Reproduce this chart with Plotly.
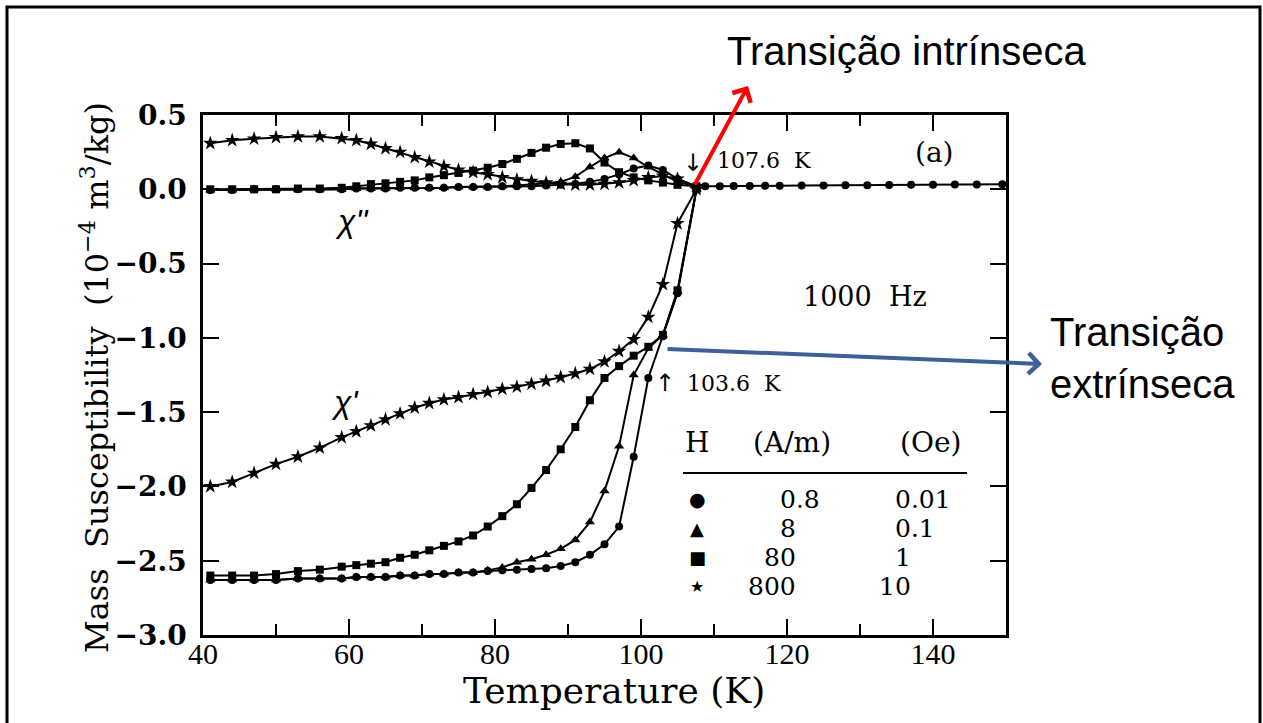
import plotly.graph_objects as go

# ---------------- data ----------------
T = [41, 44, 47, 50, 53, 56, 59, 61, 63, 65, 67, 69, 71, 73, 75, 77, 79,
     81, 83, 85, 87, 89, 91, 93, 95, 97, 99, 101, 103, 105, 107.6]
T_above = [108.8, 110.8, 112.7, 114.9, 117, 119, 122, 125, 128, 131, 134,
           137, 140, 143, 146, 149.5]

# chi' (real part)
chi1_h08 = [-2.63, -2.63, -2.63, -2.63, -2.62, -2.62, -2.62, -2.61, -2.61, -2.61,
            -2.60, -2.60, -2.59, -2.59, -2.58, -2.58, -2.57, -2.565, -2.56, -2.555,
            -2.55, -2.535, -2.51, -2.46, -2.39, -2.27, -1.80, -1.27, -0.99, -0.70, 0.0]
chi1_h08_above = [0.020, 0.020, 0.022, 0.022, 0.023, 0.024, 0.025, 0.026, 0.027,
                  0.028, 0.029, 0.030, 0.031, 0.032, 0.033, 0.034]
chi1_h8 = [-2.63, -2.63, -2.63, -2.63, -2.62, -2.62, -2.62, -2.61, -2.61, -2.61,
           -2.60, -2.60, -2.59, -2.59, -2.58, -2.58, -2.565, -2.545, -2.51, -2.49,
           -2.46, -2.42, -2.36, -2.24, -2.03, -1.73, -1.25, -1.07, -0.98, -0.69, 0.0]
chi1_h80 = [-2.60, -2.60, -2.60, -2.59, -2.57, -2.56, -2.54, -2.53, -2.52, -2.51,
            -2.48, -2.46, -2.43, -2.40, -2.37, -2.33, -2.27, -2.20, -2.12, -2.01,
            -1.89, -1.75, -1.60, -1.42, -1.27, -1.19, -1.12, -1.06, -0.98, -0.68, 0.0]
chi1_h800 = [-2.00, -1.97, -1.91, -1.85, -1.80, -1.74, -1.67, -1.63, -1.59, -1.55,
             -1.51, -1.47, -1.44, -1.415, -1.40, -1.38, -1.365, -1.345, -1.33, -1.31,
             -1.29, -1.265, -1.24, -1.21, -1.16, -1.09, -1.01, -0.86, -0.64, -0.23, 0.0]

# chi'' (imaginary part)
chi2_h08 = [-0.005, -0.005, 0.0, 0.0, 0.0, 0.0, 0.0, 0.005, 0.005, 0.005, 0.01, 0.01,
            0.01, 0.01, 0.015, 0.015, 0.015, 0.02, 0.02, 0.02, 0.025, 0.03, 0.035,
            0.05, 0.07, 0.10, 0.14, 0.16, 0.13, 0.07, 0.02]
chi2_h8 = [-0.005, -0.005, 0.0, 0.0, 0.0, 0.0, 0.0, 0.005, 0.005, 0.005, 0.01, 0.01,
           0.01, 0.01, 0.015, 0.015, 0.015, 0.02, 0.025, 0.03, 0.04, 0.05, 0.085,
           0.15, 0.21, 0.25, 0.21, 0.15, 0.10, 0.05, 0.02]
chi2_h80 = [0.0, 0.0, 0.0, 0.0, 0.005, 0.005, 0.01, 0.02, 0.035, 0.04, 0.05, 0.06,
            0.08, 0.095, 0.11, 0.125, 0.145, 0.17, 0.205, 0.245, 0.28, 0.305, 0.31,
            0.275, 0.18, 0.115, 0.08, 0.06, 0.045, 0.03, 0.02]
chi2_h800 = [0.31, 0.33, 0.34, 0.35, 0.355, 0.355, 0.343, 0.33, 0.305, 0.275, 0.25,
             0.215, 0.185, 0.155, 0.13, 0.115, 0.10, 0.08, 0.065, 0.055, 0.045, 0.035,
             0.03, 0.03, 0.035, 0.045, 0.06, 0.08, 0.09, 0.07, 0.02]

H_am = ["0.8", "8", "80", "800"]
H_oe = ["0.01", "0.1", "1", "10"]
x_ticks = [40, 60, 80, 100, 120, 140]
y_ticks = [0.5, 0.0, -0.5, -1.0, -1.5, -2.0, -2.5, -3.0]

# ---------------- layout geometry ----------------
W, H = 1263, 723
L, R, TOP, B = 203, 1006, 115, 635          # plot area in pixels
XMIN, XMAX, YMIN, YMAX = 40, 150, -3.0, 0.5


def px2x(px):
    return XMIN + (px - L) / (R - L) * (XMAX - XMIN)


def py2y(py):
    return YMAX - (py - TOP) / (B - TOP) * (YMAX - YMIN)


def pxp(px):
    return (px - L) / (R - L)


def pyp(py):
    return (B - py) / (B - TOP)


SERIF = "DejaVu Serif"
SANS = "Liberation Sans"
symbols = ["circle", "triangle-up", "square", "star"]
glyphs = ["\u25CF", "\u25B2", "\u25A0", "\u2605"]
msize = [8, 9, 8, 11]

fig = go.Figure()

chi2 = [chi2_h800, chi2_h80, chi2_h8, chi2_h08]
chi1 = [chi1_h800, chi1_h80, chi1_h8, chi1_h08]
order = [3, 2, 1, 0]
for k, i in enumerate(order):
    fig.add_trace(go.Scatter(x=T, y=chi2[k], mode="lines+markers",
                             line=dict(color="black", width=2),
                             marker=dict(symbol=symbols[i], size=msize[i], color="black"),
                             showlegend=False, cliponaxis=False))
for k, i in enumerate(order):
    xs = T + (T_above if i == 0 else [])
    ys = chi1[k] + (chi1_h08_above if i == 0 else [])
    fig.add_trace(go.Scatter(x=xs, y=ys, mode="lines+markers",
                             line=dict(color="black", width=2),
                             marker=dict(symbol=symbols[i], size=msize[i], color="black"),
                             showlegend=False, cliponaxis=False))

ann = []


def text(px, py, s, size, family=SERIF, xanchor="center", yanchor="middle", **kw):
    ann.append(dict(x=pxp(px), y=pyp(py), xref="paper", yref="paper", text=s,
                    showarrow=False, xanchor=xanchor, yanchor=yanchor,
                    font=dict(family=family, size=size, color="black"), **kw))


# axis titles
text(95, 378, "Mass\u00a0\u00a0Susceptibility\u00a0\u00a0(10<sup>\u22124</sup>\u00a0m<sup>3</sup>/kg)",
     32, textangle=-90)
text(614, 690, "Temperature\u00a0(K)", 36)

# in-plot labels
text(352, 221, "<i>\u03c7''</i>", 32, family=SANS)
text(345, 402, "<i>\u03c7'</i>", 32, family=SANS)
text(693, 163, "\u2193", 24, family="DejaVu Sans")
text(715, 160, "107.6\u00a0\u00a0K", 22, xanchor="left")
text(934, 153, "(a)", 28)
text(865, 296, "1000\u00a0\u00a0Hz", 27)
text(665, 383, "\u2191", 24, family="DejaVu Sans")
text(685, 383, "103.6\u00a0\u00a0K", 22, xanchor="left")

# field table
text(697, 442, "H", 28)
text(792, 442, "(A/m)", 28)
text(930, 442, "(Oe)", 28)
rows_py = [499, 528, 557, 586]
glyph_size = [19, 18, 18, 16]
NUM = 25
for j in range(4):
    text(697, rows_py[j], glyphs[j], glyph_size[j], family="DejaVu Sans")
    for val, xdec in ((H_am[j], 798), (H_oe[j], 913)):
        ip, _, fp = val.partition(".")
        frac_w = NUM * (0.318 + 0.636 * len(fp)) if fp else 0.0
        text(xdec + frac_w, rows_py[j], val, NUM, xanchor="right")

# slide texts
text(906, 51, "Transição intrínseca", 40, family=SANS)
ann.append(dict(x=pxp(1048), y=pyp(358), xref="paper", yref="paper",
                text="Transição<br>extrínseca", showarrow=False, xanchor="left",
                yanchor="middle", align="left",
                font=dict(family=SANS, size=40, color="black")))

# arrows
ann.append(dict(x=px2x(748), y=py2y(86), xref="x", yref="y",
                ax=px2x(694), ay=py2y(186), axref="x", ayref="y",
                showarrow=True, arrowhead=4, arrowsize=1.0, arrowwidth=4,
                arrowcolor="#ff0000", text="", standoff=0, startstandoff=0))
ann.append(dict(x=px2x(1042), y=py2y(364), xref="x", yref="y",
                ax=px2x(666), ay=py2y(349), axref="x", ayref="y",
                showarrow=True, arrowhead=4, arrowsize=1.0, arrowwidth=4,
                arrowcolor="#3d6096", text="", standoff=0, startstandoff=0))

shapes = [
    dict(type="line", xref="paper", yref="paper", x0=pxp(683), x1=pxp(967),
         y0=pyp(473), y1=pyp(473), line=dict(color="black", width=2)),
    dict(type="rect", xref="paper", yref="paper", x0=pxp(7), x1=pxp(1260),
         y0=pyp(740), y1=pyp(7), line=dict(color="black", width=3)),
]

fig.update_layout(
    width=W, height=H,
    margin=dict(l=L, r=W - R, t=TOP, b=H - B, autoexpand=False),
    paper_bgcolor="white", plot_bgcolor="white",
    showlegend=False,
    annotations=ann, shapes=shapes,
    xaxis=dict(range=[XMIN, XMAX], tickvals=x_ticks, ticktext=[str(v) for v in x_ticks],
               ticks="inside", ticklen=16, tickwidth=2, tickcolor="black",
               minor=dict(dtick=10, tick0=40, ticks="inside", ticklen=11, tickwidth=2,
                          tickcolor="black", showgrid=False),
               showline=True, linecolor="black", linewidth=2.5, mirror="ticks",
               showgrid=False, zeroline=False,
               tickfont=dict(family="Liberation Serif", size=30, color="black"),
               ticklabelstandoff=-10),
    yaxis=dict(range=[YMIN, YMAX], tickvals=y_ticks,
               ticktext=[f"{v:.1f}".replace("-", "\u2212") for v in y_ticks],
               ticks="inside", ticklen=16, tickwidth=2, tickcolor="black",
               showline=True, linecolor="black", linewidth=2.5, mirror="ticks",
               showgrid=False, zeroline=False,
               tickfont=dict(family=SERIF, size=28, color="black", weight="bold"),
               ticklabelstandoff=8),
)

fig.write_html("out.html", config={"displayModeBar": False},
               post_script="document.body.style.margin='0px';")
